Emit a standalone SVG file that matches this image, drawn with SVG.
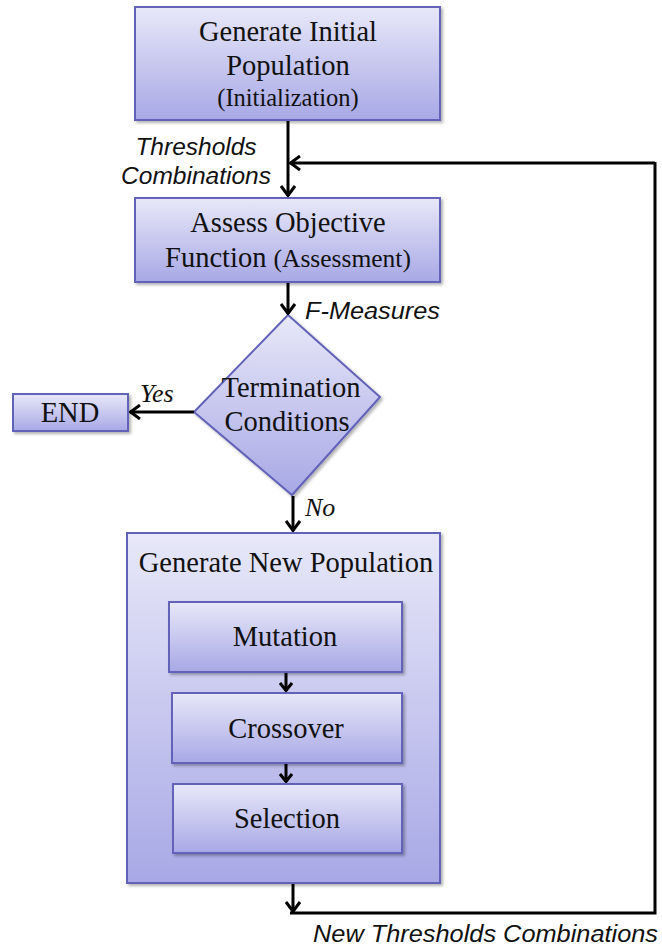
<svg xmlns="http://www.w3.org/2000/svg" width="662" height="949" viewBox="0 0 662 949">
<defs>
<linearGradient id="g" x1="0" y1="0" x2="0" y2="1">
<stop offset="0" stop-color="#e8e8f9"/>
<stop offset="1" stop-color="#a8a8e6"/>
</linearGradient>
<filter id="sh" x="-10%" y="-10%" width="130%" height="130%">
<feDropShadow dx="2" dy="2" stdDeviation="1.5" flood-color="#000" flood-opacity="0.3"/>
</filter>
<marker id="ah" viewBox="0 0 12 16" refX="11" refY="8" markerWidth="12" markerHeight="16" markerUnits="userSpaceOnUse" orient="auto">
<path d="M1,1 L10.5,8 L1,15" fill="none" stroke="#000" stroke-width="3"/>
</marker>
<marker id="ahs" viewBox="0 0 10 14" refX="9" refY="7" markerWidth="10" markerHeight="14" markerUnits="userSpaceOnUse" orient="auto">
<path d="M1,1 L8.5,7 L1,13" fill="none" stroke="#000" stroke-width="3"/>
</marker>
</defs>
<style>
.box{fill:url(#g);stroke:#6262b8;stroke-width:2;filter:url(#sh)}
.t{font-family:"Liberation Serif","Times New Roman",serif;font-size:28.5px;fill:#111;text-anchor:middle}
.ts{font-size:24.5px}
.lbl{font-family:"Liberation Sans",Arial,sans-serif;font-style:italic;font-size:24.5px;fill:#111}
.yn{font-family:"Liberation Serif","Times New Roman",serif;font-style:italic;font-size:26px;fill:#111}
.c{fill:none;stroke:#000;stroke-width:3}
</style>
<rect width="662" height="949" fill="#fff"/>

<g id="init">
<rect class="box" x="135" y="7" width="305" height="113"/>
<text class="t" x="288" y="41">Generate Initial</text>
<text class="t" x="288" y="75">Population</text>
<text class="t ts" x="288" y="106">(Initialization)</text>
</g>

<g id="assess">
<rect class="box" x="135" y="198" width="305" height="84"/>
<text class="t" x="288" y="232">Assess Objective</text>
<text class="t" x="288" y="267">Function <tspan font-size="25.5">(Assessment)</tspan></text>
</g>

<g id="termination">
<polygon class="box" points="288,315 380,397 292,495 194,412"/>
<text class="t" x="291" y="397">Termination</text>
<text class="t" x="287" y="431">Conditions</text>
</g>

<g id="end">
<rect class="box" x="13" y="394" width="115" height="37"/>
<text class="t" x="70" y="422">END</text>
</g>

<g id="newpop">
<rect class="box" x="127" y="533" width="313" height="350"/>
<text class="t" x="286" y="572">Generate New Population</text>
</g>

<g id="mutation">
<rect class="box" x="169" y="602" width="233" height="70"/>
<text class="t" x="285" y="646">Mutation</text>
</g>

<g id="crossover">
<rect class="box" x="172" y="693" width="230" height="70"/>
<text class="t" x="286" y="738">Crossover</text>
</g>

<g id="selection">
<rect class="box" x="173" y="784" width="229" height="69"/>
<text class="t" x="287" y="828">Selection</text>
</g>

<g id="connectors">
<path class="c" d="M288,121 V196" marker-end="url(#ah)"/>
<path class="c" d="M655,163 H290" marker-end="url(#ah)"/>
<path class="c" d="M288,283 V314" marker-end="url(#ah)"/>
<path class="c" d="M194,412 H130" marker-end="url(#ah)"/>
<path class="c" d="M293,496 V531" marker-end="url(#ah)"/>
<path class="c" d="M286,673 V691" marker-end="url(#ahs)"/>
<path class="c" d="M286,764 V782" marker-end="url(#ahs)"/>
<path class="c" d="M293,884 V912" marker-end="url(#ah)"/>
<path class="c" d="M290,913 H655 V162"/>
<text class="lbl" x="196" y="155" text-anchor="middle">Thresholds</text>
<text class="lbl" x="196" y="184" text-anchor="middle">Combinations</text>
<text class="lbl" x="305" y="319" textLength="135" lengthAdjust="spacingAndGlyphs">F-Measures</text>
<text class="yn" x="140" y="402">Yes</text>
<text class="yn" x="305" y="516">No</text>
<text class="lbl" x="313" y="942" textLength="345" lengthAdjust="spacingAndGlyphs">New Thresholds Combinations</text>
</g>
</svg>
